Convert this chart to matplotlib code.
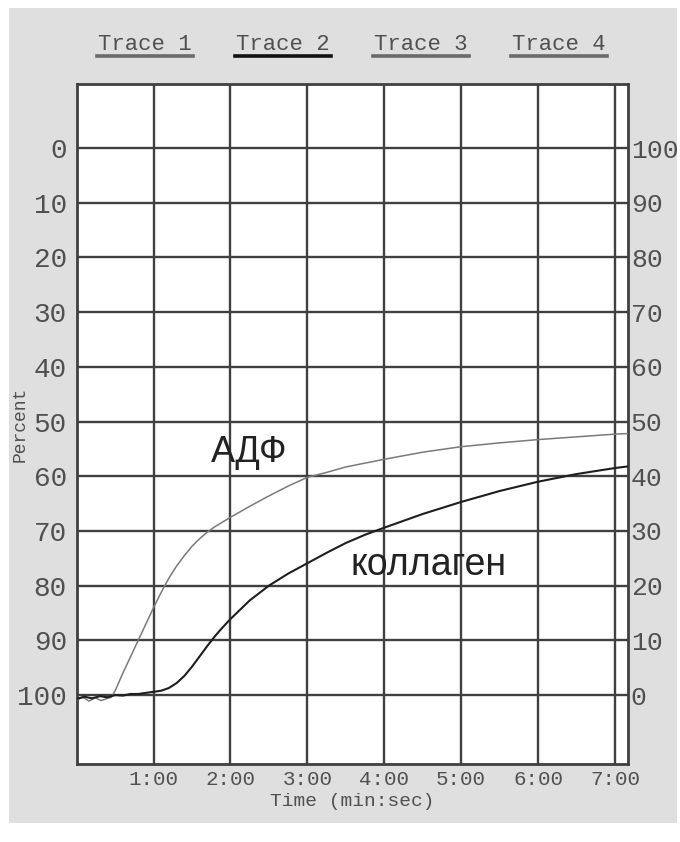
import matplotlib
matplotlib.use("Agg")
import matplotlib.pyplot as plt
from matplotlib.patches import Rectangle
from matplotlib.lines import Line2D

# ---- data (left-axis "Percent", inverted) ----
adp_time = [0.0, 0.08, 0.16, 0.24, 0.32, 0.4, 0.45, 0.5, 0.6, 0.7, 0.8, 0.9, 1.0, 1.1,
            1.2, 1.3, 1.4, 1.5, 1.6, 1.7, 1.8, 2.0, 2.25, 2.5, 2.75, 3.0, 3.25, 3.5,
            3.75, 4.0, 4.5, 5.0, 5.5, 6.0, 6.5, 7.0, 7.17]
adp_value = [100.9, 100.4, 101.1, 100.5, 101.0, 100.6, 100.4, 99.2, 96.0, 93.0, 90.0,
             87.0, 84.0, 81.2, 78.6, 76.4, 74.5, 72.8, 71.4, 70.2, 69.2, 67.5, 65.5,
             63.6, 61.8, 60.2, 59.3, 58.3, 57.6, 56.9, 55.6, 54.6, 53.9, 53.3, 52.8,
             52.3, 52.2]

col_time = [0.0, 0.1, 0.2, 0.3, 0.4, 0.5, 0.6, 0.7, 0.8, 0.9, 1.0, 1.1, 1.2, 1.3, 1.4,
            1.5, 1.6, 1.7, 1.8, 1.9, 2.0, 2.25, 2.5, 2.75, 3.0, 3.25, 3.5, 3.75, 4.0,
            4.5, 5.0, 5.5, 6.0, 6.5, 7.0, 7.17]
col_value = [100.7, 100.3, 100.6, 100.2, 100.4, 100.0, 100.1, 99.8, 99.8, 99.6, 99.4,
             99.2, 98.7, 97.8, 96.5, 94.8, 92.9, 91.0, 89.2, 87.6, 86.1, 82.7, 80.0,
             77.8, 75.9, 74.0, 72.2, 70.7, 69.4, 66.9, 64.7, 62.7, 61.0, 59.6, 58.5,
             58.2]

x_ticks = [1, 2, 3, 4, 5, 6, 7]
x_tick_labels = ["1:00", "2:00", "3:00", "4:00", "5:00", "6:00", "7:00"]
left_ticks = [0, 10, 20, 30, 40, 50, 60, 70, 80, 90, 100]
right_ticks = [0, 10, 20, 30, 40, 50, 60, 70, 80, 90, 100]
trace_labels = ["Trace 1", "Trace 2", "Trace 3", "Trace 4"]

W, H = 680, 842
fig = plt.figure(figsize=(W / 100, H / 100), dpi=100)
fig.patch.set_facecolor("white")
bg = Rectangle((9 / W, 1 - 823 / H), (677 - 9) / W, (823 - 8) / H,
               transform=fig.transFigure, facecolor="#dfdfdf", edgecolor="none")
bg.set_zorder(-10)
fig.add_artist(bg)

left, right, top, bottom = 76.7, 628, 84, 764
ax = fig.add_axes([left / W, 1 - bottom / H, (right - left) / W, (bottom - top) / H])
ax.set_zorder(1)
ax.set_facecolor("white")

mono = "Liberation Mono"
tcol = "#505050"
gcol = "#404040"

ax.plot(adp_time, adp_value, color="#7a7a7a", lw=1.1, zorder=3)
ax.plot(col_time, col_value, color="#1e1e1e", lw=1.5, zorder=3)

ax.set_xlim(0, 7.17)
ax.set_ylim(112.6, -11.7)
ax.set_xticks(x_ticks)
ax.set_xticklabels(x_tick_labels, fontfamily=mono, fontsize=15, color=tcol)
ax.set_yticks(left_ticks)
ax.set_yticklabels([str(v) for v in left_ticks], fontfamily=mono, fontsize=20, color=tcol)
ax.tick_params(axis="both", length=0)
ax.tick_params(axis="y", pad=7)
ax.tick_params(axis="x", pad=4)
ax.grid(True, color=gcol, lw=1.7, zorder=1)
ax.set_axisbelow(True)
for s in ax.spines.values():
    s.set_color(gcol)
    s.set_linewidth(2)

ax.set_xlabel("Time (min:sec)", fontfamily=mono, fontsize=14, color=tcol, labelpad=3)

ax2 = ax.twinx()
ax2.set_ylim(-12.6, 111.7)
ax2.set_yticks(right_ticks)
ax2.set_yticklabels([str(v) for v in right_ticks], fontfamily=mono, fontsize=19, color=tcol)
ax2.tick_params(axis="y", length=0, pad=2)
for s in ax2.spines.values():
    s.set_visible(False)

fig.text(20 / W, 1 - 424 / H, "Percent", rotation=90, ha="center", va="center",
         fontfamily=mono, fontsize=13, color=tcol)

ax.text(2.24, 55.6, "АДФ", ha="center", va="center", fontfamily="Liberation Sans",
        fontsize=26, color="#222222", zorder=4)
ax.text(4.57, 76.2, "коллаген", ha="center", va="center", fontfamily="Liberation Sans",
        fontsize=27, color="#222222", zorder=4)

centers = [145, 283, 421, 559]
for i, (lab, cx) in enumerate(zip(trace_labels, centers)):
    fig.text(cx / W, 1 - 45 / H, lab, ha="center", va="center", fontfamily=mono,
             fontsize=16, color=tcol)
    ucol = "#111111" if i == 1 else "#6a6a6a"
    fig.add_artist(Line2D([(cx - 48) / W, (cx + 48) / W], [1 - 55.5 / H, 1 - 55.5 / H],
                          transform=fig.transFigure, color=ucol, lw=2.6))

fig.savefig("out.png", dpi=100, facecolor=fig.get_facecolor())
